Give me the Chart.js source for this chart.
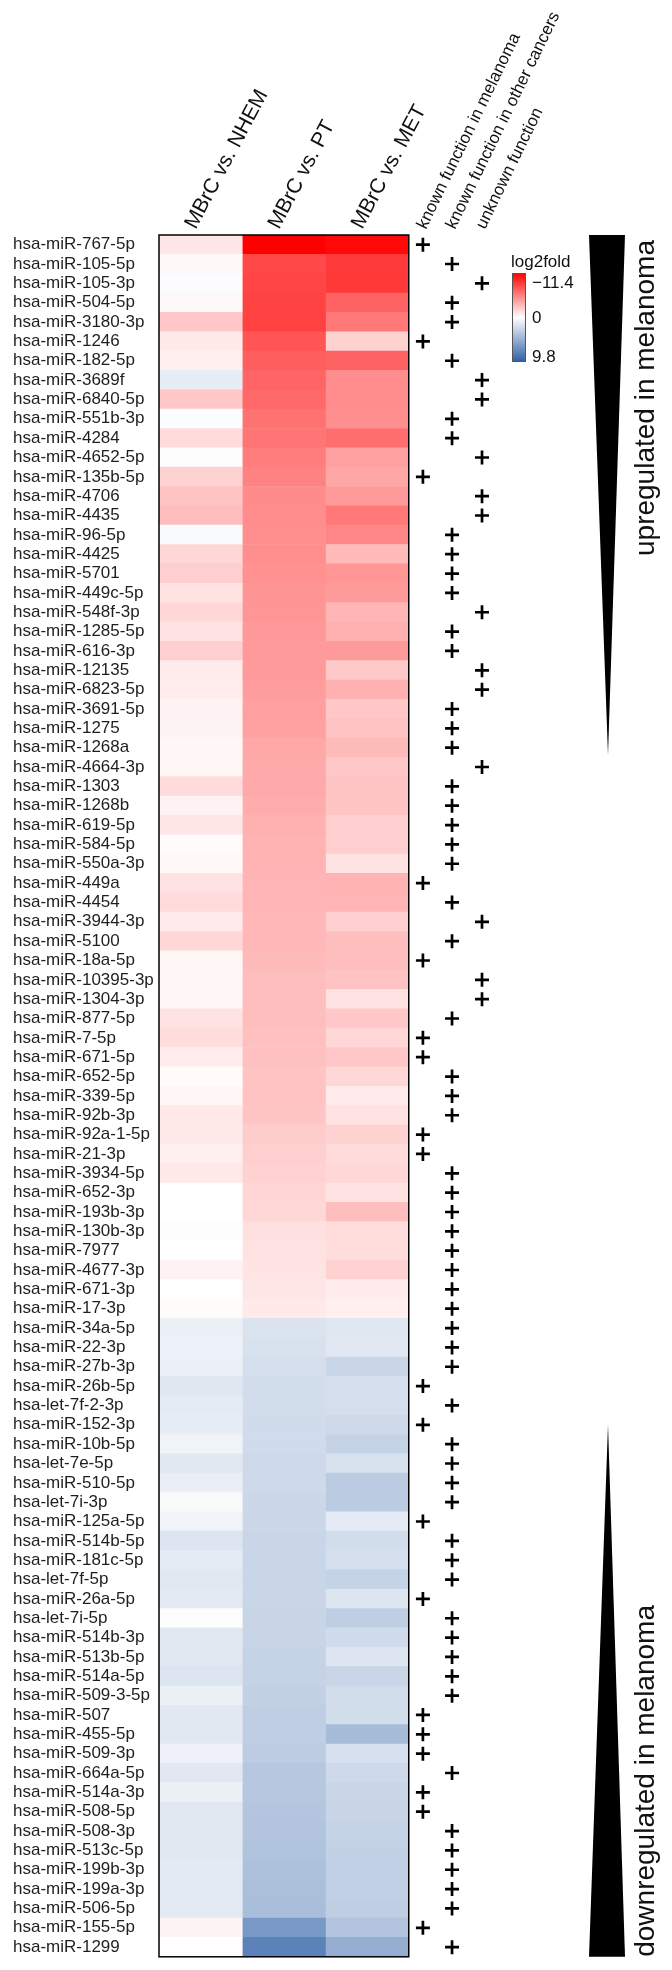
<!DOCTYPE html>
<html>
<head>
<meta charset="utf-8">
<script src="https://cdn.jsdelivr.net/npm/chart.js@4.4.1/dist/chart.umd.min.js"></script>
<style>
	html, body { margin: 0; padding: 0; background: #fff; }
	#wrap { width: 672px; height: 1970px; }
</style>
</head>
<body>
<div id="wrap"><canvas id="heatmap" width="672" height="1970"></canvas></div>
<script>
const rowLabels = [
	"hsa-miR-767-5p", "hsa-miR-105-5p", "hsa-miR-105-3p", "hsa-miR-504-5p", "hsa-miR-3180-3p",
	"hsa-miR-1246", "hsa-miR-182-5p", "hsa-miR-3689f", "hsa-miR-6840-5p", "hsa-miR-551b-3p",
	"hsa-miR-4284", "hsa-miR-4652-5p", "hsa-miR-135b-5p", "hsa-miR-4706", "hsa-miR-4435",
	"hsa-miR-96-5p", "hsa-miR-4425", "hsa-miR-5701", "hsa-miR-449c-5p", "hsa-miR-548f-3p",
	"hsa-miR-1285-5p", "hsa-miR-616-3p", "hsa-miR-12135", "hsa-miR-6823-5p", "hsa-miR-3691-5p",
	"hsa-miR-1275", "hsa-miR-1268a", "hsa-miR-4664-3p", "hsa-miR-1303", "hsa-miR-1268b",
	"hsa-miR-619-5p", "hsa-miR-584-5p", "hsa-miR-550a-3p", "hsa-miR-449a", "hsa-miR-4454",
	"hsa-miR-3944-3p", "hsa-miR-5100", "hsa-miR-18a-5p", "hsa-miR-10395-3p", "hsa-miR-1304-3p",
	"hsa-miR-877-5p", "hsa-miR-7-5p", "hsa-miR-671-5p", "hsa-miR-652-5p", "hsa-miR-339-5p",
	"hsa-miR-92b-3p", "hsa-miR-92a-1-5p", "hsa-miR-21-3p", "hsa-miR-3934-5p", "hsa-miR-652-3p",
	"hsa-miR-193b-3p", "hsa-miR-130b-3p", "hsa-miR-7977", "hsa-miR-4677-3p", "hsa-miR-671-3p",
	"hsa-miR-17-3p", "hsa-miR-34a-5p", "hsa-miR-22-3p", "hsa-miR-27b-3p", "hsa-miR-26b-5p",
	"hsa-let-7f-2-3p", "hsa-miR-152-3p", "hsa-miR-10b-5p", "hsa-let-7e-5p", "hsa-miR-510-5p",
	"hsa-let-7i-3p", "hsa-miR-125a-5p", "hsa-miR-514b-5p", "hsa-miR-181c-5p", "hsa-let-7f-5p",
	"hsa-miR-26a-5p", "hsa-let-7i-5p", "hsa-miR-514b-3p", "hsa-miR-513b-5p", "hsa-miR-514a-5p",
	"hsa-miR-509-3-5p", "hsa-miR-507", "hsa-miR-455-5p", "hsa-miR-509-3p", "hsa-miR-664a-5p",
	"hsa-miR-514a-3p", "hsa-miR-508-5p", "hsa-miR-508-3p", "hsa-miR-513c-5p", "hsa-miR-199b-3p",
	"hsa-miR-199a-3p", "hsa-miR-506-5p", "hsa-miR-155-5p", "hsa-miR-1299"
];

// log2fold per comparison (negative = red, positive = blue)
const vsNHEM = [
	-1.1, -0.3, 0.2, -0.3, -2.5, -1.0, -0.7, 1.1, -2.5, 0.2,
	-1.6, 0.1, -2.0, -2.7, -2.9, 0.3, -1.8, -2.2, -1.3, -1.8,
	-1.3, -2.2, -0.9, -0.8, -0.6, -0.5, -0.4, -0.4, -1.6, -0.6,
	-1.1, -0.2, -0.3, -1.3, -1.6, -0.9, -1.8, -0.4, -0.4, -0.4,
	-1.3, -1.5, -0.8, -0.2, -0.4, -1.0, -1.0, -0.7, -1.0, -0.05,
	0.0, 0.1, 0.0, -0.6, 0.05, -0.2, 0.9, 0.8, 0.9, 1.5,
	1.2, 1.1, 0.7, 1.4, 1.0, 0.3, 0.7, 1.6, 1.2, 1.4,
	1.3, 0.1, 1.4, 1.4, 1.6, 0.9, 1.4, 1.4, 0.8, 1.4,
	0.9, 1.4, 1.4, 1.4, 1.3, 1.3, 1.3, -0.5, -0.1
];
const vsPT = [
	-11.4, -8.2, -8.3, -8.4, -8.5, -7.6, -7.2, -6.9, -6.7, -6.3,
	-6.2, -5.8, -5.6, -5.2, -5.1, -5.0, -5.0, -4.9, -4.8, -4.7,
	-4.6, -4.5, -4.5, -4.4, -4.3, -4.2, -3.9, -3.8, -3.8, -3.7,
	-3.5, -3.4, -3.4, -3.3, -3.3, -3.2, -3.2, -3.1, -2.9, -2.9,
	-2.9, -2.8, -2.8, -2.7, -2.7, -2.6, -2.3, -2.2, -2.0, -1.9,
	-1.8, -1.4, -1.3, -1.2, -1.1, -1.0, 1.7, 1.8, 2.0, 2.1,
	2.1, 2.2, 2.2, 2.3, 2.3, 2.4, 2.4, 2.5, 2.5, 2.5,
	2.5, 2.6, 2.6, 2.7, 2.7, 2.8, 3.0, 3.0, 3.1, 3.4,
	3.4, 3.5, 3.6, 3.7, 3.8, 3.9, 4.0, 6.3, 7.6
];
const vsMET = [
	-11.0, -8.8, -8.9, -7.0, -6.0, -2.0, -7.0, -5.1, -5.1, -5.0,
	-6.5, -4.2, -4.0, -4.5, -6.0, -5.4, -3.1, -4.7, -4.5, -3.3,
	-3.5, -4.5, -2.4, -3.5, -2.5, -2.7, -3.1, -2.5, -2.6, -2.6,
	-2.2, -2.2, -1.3, -3.4, -3.3, -2.2, -2.9, -2.9, -2.7, -1.3,
	-2.5, -1.8, -2.5, -1.8, -0.9, -1.3, -2.0, -1.6, -1.8, -1.3,
	-2.9, -1.5, -1.5, -2.0, -0.9, -0.7, 1.5, 1.4, 2.5, 2.0,
	2.0, 2.3, 2.7, 1.8, 3.2, 3.2, 1.2, 2.1, 2.0, 2.7,
	1.6, 3.0, 2.2, 1.6, 2.5, 2.1, 2.1, 4.1, 1.9, 2.3,
	2.5, 2.6, 2.7, 2.8, 2.9, 2.9, 3.0, 3.6, 5.0
];

// 0 = known function in melanoma, 1 = known function in other cancers, 2 = unknown function
const functionClass = [
	0, 1, 2, 1, 1, 0, 1, 2, 2, 1,
	1, 2, 0, 2, 2, 1, 1, 1, 1, 2,
	1, 1, 2, 2, 1, 1, 1, 2, 1, 1,
	1, 1, 1, 0, 1, 2, 1, 0, 2, 2,
	1, 0, 0, 1, 1, 1, 0, 0, 1, 1,
	1, 1, 1, 1, 1, 1, 1, 1, 1, 0,
	1, 0, 1, 1, 1, 1, 0, 1, 1, 1,
	0, 1, 1, 1, 1, 1, 0, 0, 0, 1,
	0, 0, 1, 1, 1, 1, 1, 0, 1
];

const columnLabels = ["MBrC vs. NHEM", "MBrC vs. PT", "MBrC vs. MET"];
const functionLabels = ["known function in melanoma", "known function in other cancers", "unknown function"];
const legendTicks = [-11.4, 0, 9.8];

const FONT = "'Liberation Sans', Arial, sans-serif";
const RED = [255, 0, 0];
const BLUE = [45, 95, 165];
// x position (in heatmap column units) of the three "+" columns
const plusX = [3.17, 3.52, 3.88];

function cellColor(v) {
	let target = v < 0 ? RED : BLUE;
	let t = v < 0 ? Math.min(1, v / legendTicks[0]) : Math.min(1, v / legendTicks[2]);
	let c = target.map(ch => Math.round(255 + t * (ch - 255)));
	return `rgb(${c.join(",")})`;
}

function fmtTick(v) {
	return v < 0 ? "\u2212" + Math.abs(v) : String(v);
}

Chart.defaults.font.family = FONT;

let heatColumns = [vsNHEM, vsPT, vsMET];

let datasets = heatColumns.map((values, k) => ({
	type: "bar",
	label: columnLabels[k],
	data: rowLabels.map(() => [k, k + 1]),
	backgroundColor: values.map(cellColor),
	borderWidth: 0,
	barPercentage: 1,
	categoryPercentage: 1,
	grouped: false,
}));

datasets.push({
	type: "scatter",
	label: "function",
	data: rowLabels.map((lab, i) => ({ x: plusX[functionClass[i]], y: lab })),
	pointStyle: "cross",
	pointRadius: 7,
	borderWidth: 2.7,
	borderColor: "#000",
	backgroundColor: "#000",
});

// Testi ruotati, legenda, cornice e triangoli
const decorPlugin = {
	id: "decor",
	afterDraw(chart) {
		let ctx = chart.ctx;
		let { top, bottom } = chart.chartArea;
		let x = chart.scales.x;

		ctx.save();
		// cornice heatmap
		let x0 = x.getPixelForValue(0);
		let x1 = x.getPixelForValue(3);
		ctx.strokeStyle = "#000";
		ctx.lineWidth = 1.5;
		ctx.strokeRect(x0, top, x1 - x0, bottom - top);

		ctx.fillStyle = "#111";
		ctx.textAlign = "left";
		ctx.textBaseline = "alphabetic";

		// intestazioni colonne
		columnLabels.forEach((lab, k) => {
			ctx.save();
			ctx.translate(x.getPixelForValue(k + 0.5) - 5, top - 5);
			ctx.rotate(-62 * Math.PI / 180);
			ctx.font = `21px ${FONT}`;
			ctx.fillText(lab, 0, 0);
			ctx.restore();
		});

		functionLabels.forEach((lab, k) => {
			ctx.save();
			ctx.translate(x.getPixelForValue(plusX[k]) + 3, top - 5);
			ctx.rotate(-64 * Math.PI / 180);
			ctx.font = `17px ${FONT}`;
			ctx.fillText(lab, 0, 0);
			ctx.restore();
		});

		// legenda
		let barL = 512, barT = 273, barW = 14, barH = 89;
		ctx.font = `17px ${FONT}`;
		ctx.textBaseline = "middle";
		ctx.fillText("log2fold", 511, 262);
		let grad = ctx.createLinearGradient(0, barT, 0, barT + barH);
		grad.addColorStop(0, cellColor(legendTicks[0]));
		grad.addColorStop(0.5, cellColor(legendTicks[1]));
		grad.addColorStop(1, cellColor(legendTicks[2]));
		ctx.fillStyle = grad;
		ctx.fillRect(barL, barT, barW, barH);
		ctx.strokeStyle = "#555";
		ctx.lineWidth = 1;
		ctx.strokeRect(barL + 0.5, barT + 0.5, barW - 1, barH - 1);
		ctx.fillStyle = "#111";
		let tickY = [barT + 10, barT + barH / 2 + 1, barT + barH - 5];
		legendTicks.forEach((v, i) => ctx.fillText(fmtTick(v), 532, tickY[i]));

		// triangoli
		ctx.fillStyle = "#000";
		ctx.beginPath();
		ctx.moveTo(589, top);
		ctx.lineTo(625, top);
		ctx.lineTo(608, 755);
		ctx.closePath();
		ctx.fill();
		ctx.beginPath();
		ctx.moveTo(608, 1425);
		ctx.lineTo(625, bottom);
		ctx.lineTo(589, bottom);
		ctx.closePath();
		ctx.fill();

		ctx.font = `28px ${FONT}`;
		ctx.textBaseline = "alphabetic";
		ctx.fillStyle = "#111";
		ctx.save();
		ctx.translate(654, 556);
		ctx.rotate(-Math.PI / 2);
		ctx.fillText("upregulated in melanoma", 0, 0);
		ctx.restore();
		ctx.save();
		ctx.translate(654, bottom);
		ctx.rotate(-Math.PI / 2);
		ctx.fillText("downregulated in melanoma", 0, 0);
		ctx.restore();

		ctx.restore();
	}
};

new Chart(document.getElementById("heatmap"), {
	type: "bar",
	data: { labels: rowLabels, datasets: datasets },
	options: {
		indexAxis: "y",
		responsive: false,
		devicePixelRatio: 1,
		animation: false,
		events: [],
		layout: { padding: { left: 13, right: 180, top: 235, bottom: 11 } },
		plugins: { legend: { display: false }, tooltip: { enabled: false } },
		scales: {
			x: { type: "linear", min: 0, max: 4, display: false },
			y: {
				type: "category",
				position: "left",
				grid: { display: false },
				border: { display: false },
				ticks: {
					autoSkip: false,
					crossAlign: "far",
					color: "#1e1e1e",
					font: { size: 17, family: FONT },
				},
				afterFit: (scale) => { scale.width = 146; },
			},
		},
	},
	plugins: [decorPlugin],
});
</script>
</body>
</html>
